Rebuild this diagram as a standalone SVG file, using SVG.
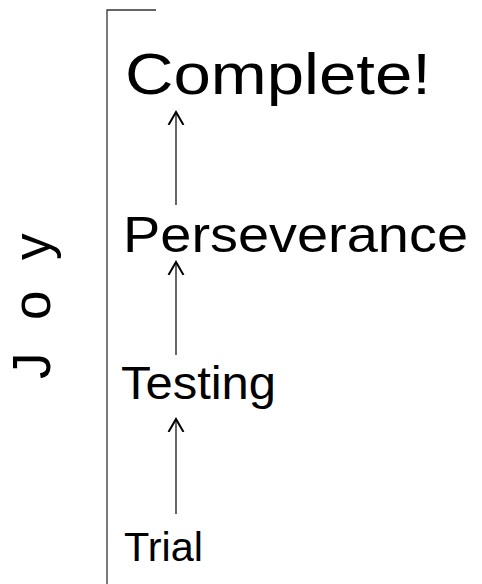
<svg xmlns="http://www.w3.org/2000/svg" width="482" height="584" viewBox="0 0 482 584">
  <style>
    .lbl { font-family: "Liberation Sans", Arial, sans-serif; fill: #000; }
    .conn { stroke: #000; stroke-width: 1.2; fill: none; }
    .frame { stroke: #333; stroke-width: 1.3; fill: none; }
  </style>
  <defs>
    <marker id="arr" markerUnits="userSpaceOnUse" markerWidth="20" markerHeight="20" refX="13" refY="8" orient="auto" viewBox="0 0 20 16">
      <polyline points="0,0.5 13,8 0,15.5" fill="none" stroke="#000" stroke-width="2"/>
    </marker>
  </defs>
  <g id="frame">
    <polyline class="frame" points="156,10 107,10 107,584"/>
  </g>
  <g id="joy-label">
    <text class="lbl" transform="translate(50,379) rotate(-90)" font-size="53"><tspan x="0">J</tspan><tspan x="59">o</tspan><tspan x="119">y</tspan></text>
  </g>
  <g id="complete">
    <text class="lbl" x="125" y="94" font-size="58" textLength="306" lengthAdjust="spacingAndGlyphs">Complete!</text>
  </g>
  <g id="perseverance">
    <text class="lbl" x="123" y="252" font-size="50" textLength="345" lengthAdjust="spacingAndGlyphs">Perseverance</text>
  </g>
  <g id="testing">
    <text class="lbl" x="121" y="399" font-size="46" textLength="155" lengthAdjust="spacingAndGlyphs">Testing</text>
  </g>
  <g id="trial">
    <text class="lbl" x="124" y="561" font-size="41" textLength="79" lengthAdjust="spacingAndGlyphs">Trial</text>
  </g>
  <g id="connectors">
    <line class="conn" x1="176" y1="205" x2="176" y2="112" marker-end="url(#arr)"/>
    <line class="conn" x1="176" y1="355" x2="176" y2="262" marker-end="url(#arr)"/>
    <line class="conn" x1="176" y1="514" x2="176" y2="419" marker-end="url(#arr)"/>
  </g>
</svg>
